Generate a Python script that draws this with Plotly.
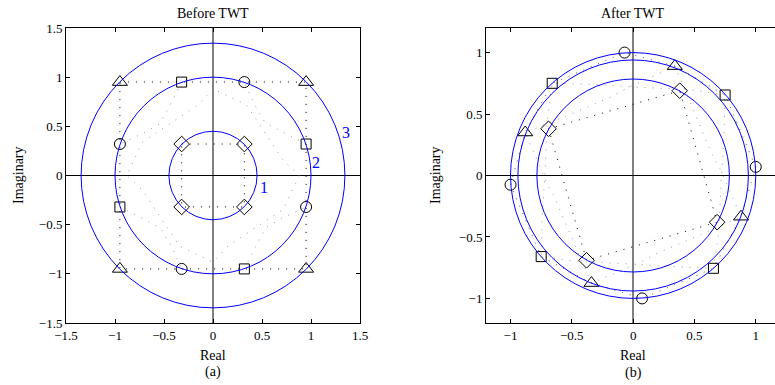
import plotly.graph_objects as go

# ---------------- data: Before TWT ----------------
tri_b_x = [-0.95, 0.95, -0.95, 0.95]
tri_b_y = [0.95, 0.95, -0.95, -0.95]
sq_b_x = [-0.32, 0.95, -0.95, 0.32]
sq_b_y = [0.95, 0.32, -0.32, -0.95]
circ_b_x = [0.32, -0.95, 0.95, -0.32]
circ_b_y = [0.95, 0.32, -0.32, -0.95]
dia_b_x = [-0.32, 0.32, -0.32, 0.32]
dia_b_y = [0.32, 0.32, -0.32, -0.32]
rings_b = [0.45, 1.0, 1.346]
ring_labels = ["1", "2", "3"]
ring_label_x = [0.52, 1.056, 1.36]
ring_label_y = [-0.12, 0.13, 0.437]

# dotted guide paths (Before)
outer_b_x = [-0.95, 0.95, 0.95, -0.95, -0.95]
outer_b_y = [0.95, 0.95, -0.95, -0.95, 0.95]
inner_b_x = [-0.32, 0.32, 0.32, -0.32, -0.32]
inner_b_y = [0.32, 0.32, -0.32, -0.32, 0.32]
ga_b_x = [-0.32, -0.42, -0.54, -0.71, -0.95, None,
          -0.95, -0.75, -0.53, -0.43, -0.32, None,
          0.32, 0.42, 0.54, 0.71, 0.95, None,
          0.95, 0.75, 0.53, 0.43, 0.32]
ga_b_y = [0.95, 0.75, 0.53, 0.43, 0.32, None,
          -0.32, -0.42, -0.54, -0.71, -0.95, None,
          -0.95, -0.75, -0.53, -0.43, -0.32, None,
          0.32, 0.42, 0.54, 0.71, 0.95]
gb_b_x = [0, -0.15, -0.48, -0.72, -0.88, -0.72, -0.50, -0.34, 0, 0.15, 0.48, 0.72, 0.88, 0.72, 0.50, 0.34, 0]
gb_b_y = [0.88, 0.72, 0.50, 0.34, 0, -0.15, -0.48, -0.72, -0.88, -0.72, -0.50, -0.34, 0, 0.15, 0.48, 0.72, 0.88]

# ---------------- data: After TWT ----------------
tri_a_x = [0.34, -0.88, 0.88, -0.34]
tri_a_y = [0.89, 0.35, -0.335, -0.875]
sq_a_x = [-0.66, 0.75, -0.75, 0.655]
sq_a_y = [0.75, 0.655, -0.66, -0.755]
circ_a_x = [-0.07, 1.0, -1.0, 0.073]
circ_a_y = [1.0, 0.07, -0.075, -1.0]
dia_a_x = [0.38, -0.69, -0.38, 0.685]
dia_a_y = [0.69, 0.38, -0.69, -0.38]
rings_a = [0.785, 0.94, 1.0]

outer_a_x = [1.0, 0.75, 0.34, -0.07, -0.66, -0.88, -1.0, -0.75, -0.34, 0.073, 0.655, 0.88, 1.0]
outer_a_y = [0.07, 0.655, 0.89, 1.0, 0.75, 0.35, -0.075, -0.66, -0.875, -1.0, -0.755, -0.335, 0.07]
inner_a_x = [0.38, -0.69, -0.38, 0.685, 0.38]
inner_a_y = [0.69, 0.38, -0.69, -0.38, 0.69]
g1_a_x = [0.75, 0.45, 0.0, -0.3, -0.66, -0.70, -0.72, -0.74, -0.75, -0.45, 0.0, 0.3, 0.655, 0.70, 0.72, 0.74, 0.75]
g1_a_y = [0.655, 0.70, 0.72, 0.74, 0.75, 0.45, 0.0, -0.3, -0.66, -0.70, -0.72, -0.74, -0.755, -0.45, 0.0, 0.3, 0.655]
g2_a_x = [0.34, 0.49, 0.64, 0.71, 0.88, 0.53, 0.18, 0.05, -0.34, -0.49, -0.64, -0.71, -0.88, -0.53, -0.18, -0.05, 0.34]
g2_a_y = [0.89, 0.53, 0.18, 0.05, -0.335, -0.49, -0.64, -0.71, -0.875, -0.53, -0.18, -0.05, 0.35, 0.49, 0.64, 0.71, 0.89]

# ---------------- figure ----------------
W, H = 775, 385
SERIF = "Liberation Serif, Times New Roman, serif"
DOT = "1px,7px"
fig = go.Figure()


def add_path(x, y, color, xa, ya):
    fig.add_trace(go.Scatter(x=x, y=y, mode="lines", xaxis=xa, yaxis=ya,
                             line=dict(color=color, width=1, dash=DOT),
                             hoverinfo="skip", showlegend=False))


def add_markers(x, y, symbol, size, xa, ya):
    fig.add_trace(go.Scatter(x=x, y=y, mode="markers", xaxis=xa, yaxis=ya,
                             marker=dict(symbol=symbol, size=size, color="black",
                                         line=dict(color="black", width=1)),
                             showlegend=False))


# left panel
add_path(ga_b_x, ga_b_y, "#9a9a9a", "x", "y")
add_path(gb_b_x, gb_b_y, "#9a9a9a", "x", "y")
add_path(outer_b_x, outer_b_y, "black", "x", "y")
add_path(inner_b_x, inner_b_y, "black", "x", "y")
add_markers(tri_b_x, tri_b_y, "triangle-up-open", 13, "x", "y")
add_markers(sq_b_x, sq_b_y, "square-open", 10, "x", "y")
add_markers(circ_b_x, circ_b_y, "circle-open", 11, "x", "y")
add_markers(dia_b_x, dia_b_y, "diamond-open", 12, "x", "y")

# right panel
add_path(g1_a_x, g1_a_y, "#9a9a9a", "x2", "y2")
add_path(g2_a_x, g2_a_y, "#9a9a9a", "x2", "y2")
add_path(outer_a_x, outer_a_y, "#555555", "x2", "y2")
add_path(inner_a_x, inner_a_y, "black", "x2", "y2")
add_markers(tri_a_x, tri_a_y, "triangle-up-open", 13, "x2", "y2")
add_markers(sq_a_x, sq_a_y, "square-open", 10, "x2", "y2")
add_markers(circ_a_x, circ_a_y, "circle-open", 11, "x2", "y2")
add_markers(dia_a_x, dia_a_y, "diamond-open", 12, "x2", "y2")

shapes = []
for r in rings_b:
    shapes.append(dict(type="circle", xref="x", yref="y", x0=-r, x1=r, y0=-r, y1=r,
                       line=dict(color="#0000ff", width=1)))
for r in rings_a:
    shapes.append(dict(type="circle", xref="x2", yref="y2", x0=-r, x1=r, y0=-r, y1=r,
                       line=dict(color="#0000ff", width=1)))

annotations = []
for t, lx, ly in zip(ring_labels, ring_label_x, ring_label_y):
    annotations.append(dict(text=t, x=lx, y=ly, xref="x", yref="y", showarrow=False,
                            font=dict(family=SERIF, size=16, color="#0000ff")))


def paper_text(text, px, py, size=14, angle=0):
    annotations.append(dict(text=text, x=px / W, y=1 - py / H, xref="paper", yref="paper",
                            showarrow=False, textangle=angle, xanchor="center", yanchor="middle",
                            font=dict(family=SERIF, size=size, color="black")))


paper_text("Before TWT", 213, 13)
paper_text("After TWT", 633, 13)
paper_text("Real", 213, 355)
paper_text("Real", 633, 355)
paper_text("(a)", 213, 372)
paper_text("(b)", 633, 373)
paper_text("Imaginary", 18, 175, angle=-90)
paper_text("Imaginary", 435, 175, angle=-90)

ydom = [1 - 323 / H, 1 - 28 / H]
common = dict(showgrid=False, ticks="inside", ticklen=4, tickcolor="black", showline=True,
              linecolor="black", linewidth=1, zeroline=True, automargin=False,
              tickfont=dict(family=SERIF, size=13, color="black"))

fig.update_layout(
    template="none",
    width=W, height=H, autosize=False,
    margin=dict(l=0, r=0, t=0, b=0, pad=0),
    paper_bgcolor="white", plot_bgcolor="white",
    showlegend=False,
    shapes=shapes, annotations=annotations,
    xaxis=dict(domain=[66 / W, 360 / W], range=[-1.5, 1.5], tickvals=[-1.5, -1, -0.5, 0, 0.5, 1, 1.5],
               mirror="allticks", zerolinecolor="#808080", zerolinewidth=1.5, anchor="y", **common),
    yaxis=dict(domain=ydom, range=[-1.5, 1.5], tickvals=[-1.5, -1, -0.5, 0, 0.5, 1, 1.5],
               mirror="allticks", zerolinecolor="black", zerolinewidth=1, anchor="x", **common),
    xaxis2=dict(domain=[486 / W, 1.0], range=[-1.2, 1.157], tickvals=[-1, -0.5, 0, 0.5, 1],
                mirror="allticks", zerolinecolor="#808080", zerolinewidth=1.5, anchor="y2", **common),
    yaxis2=dict(domain=ydom, range=[-1.2, 1.2], tickvals=[-1, -0.5, 0, 0.5, 1],
                mirror=False, zerolinecolor="black", zerolinewidth=1, anchor="x2", **common),
)

fig.write_html(
    "out.html",
    config={"displayModeBar": False, "responsive": False},
    post_script="document.body.style.margin='0';document.body.style.overflow='hidden';",
)
